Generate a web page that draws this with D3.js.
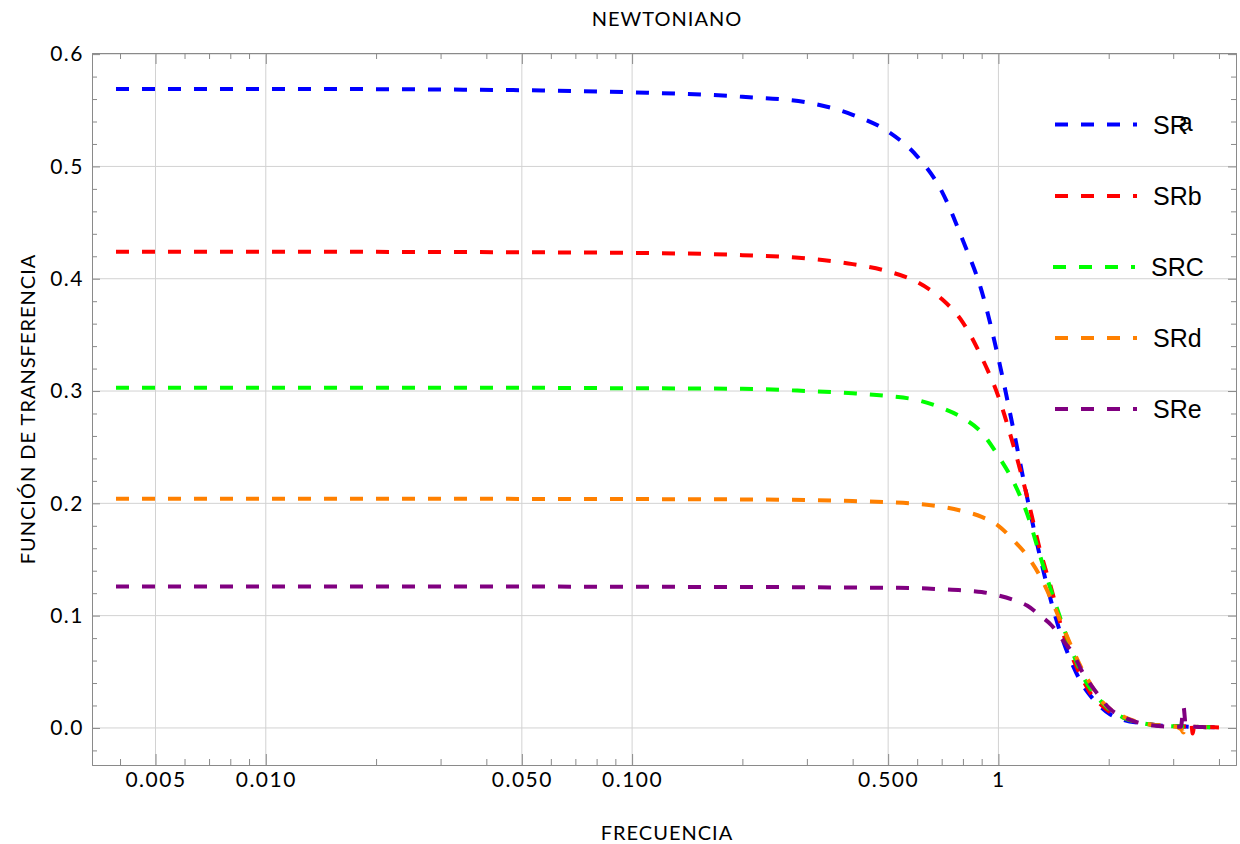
<!DOCTYPE html>
<html>
<head>
<meta charset="utf-8">
<script src="https://cdn.jsdelivr.net/npm/d3@7"></script>
<style>
body { margin: 0; background: #fff; }
text { font-family: Lato, "Open Sans", sans-serif; }
</style>
</head>
<body>
<script>
// Data
const seriesNames = ['SRa', 'SRb', 'SRC', 'SRd', 'SRe'];
const colors = ['#0000ff', '#ff0000', '#00ff00', '#ff8000', '#800080'];

const freq = [0.0039, 0.01, 0.03, 0.1, 0.2, 0.3, 0.4, 0.5, 0.6, 0.7, 0.8, 0.9,
    1.0, 1.1, 1.2, 1.3, 1.4, 1.5, 1.6, 1.7, 1.8, 1.9, 2.0, 2.2, 2.5, 2.8,
    3.0, 3.15, 3.2, 3.25, 3.33, 3.36, 3.39, 3.42, 3.6, 4.0];

const sra = [0.569, 0.569, 0.5685, 0.566, 0.562, 0.557, 0.546, 0.531, 0.509, 0.478, 0.434, 0.389,
    0.329, 0.265, 0.204, 0.152, 0.110, 0.078, 0.055, 0.038, 0.027, 0.019, 0.013, 0.007, 0.004, 0.002,
    0.0015, 0.0013, 0.0012, 0.0012, 0.001, 0.001, 0.001, 0.001, 0.0008, 0.0005];
const srb = [0.424, 0.424, 0.4238, 0.423, 0.421, 0.418, 0.413, 0.4065, 0.397, 0.382, 0.361, 0.330,
    0.295, 0.251, 0.205, 0.158, 0.122, 0.085, 0.061, 0.043, 0.029, 0.021, 0.015, 0.009, 0.004, 0.002,
    0.0015, 0.0013, 0.0012, 0.0012, 0.0005, 0.005, -0.005, 0.0005, 0.0008, 0.0005];
const src = [0.303, 0.303, 0.303, 0.3025, 0.302, 0.300, 0.298, 0.2955, 0.292, 0.285, 0.276, 0.263,
    0.242, 0.219, 0.190, 0.153, 0.120, 0.091, 0.066, 0.046, 0.033, 0.024, 0.017, 0.009, 0.004, 0.002,
    0.0015, 0.0013, 0.0012, 0.0012, 0.001, 0.001, 0.001, 0.001, 0.0008, 0.0005];
const srd = [0.204, 0.204, 0.204, 0.2038, 0.2035, 0.203, 0.202, 0.201, 0.1995, 0.197, 0.193, 0.188,
    0.180, 0.167, 0.153, 0.135, 0.113, 0.090, 0.069, 0.051, 0.037, 0.025, 0.018, 0.010, 0.004, 0.002,
    0.0015, -0.001, -0.004, 0.0008, 0.001, 0.001, 0.001, 0.001, 0.0008, 0.0005];
const sre = [0.126, 0.126, 0.126, 0.1257, 0.1255, 0.1253, 0.125, 0.1248, 0.1245, 0.1235, 0.1225, 0.121,
    0.118, 0.114, 0.1088, 0.100, 0.091, 0.078, 0.066, 0.049, 0.037, 0.027, 0.018, 0.0095, 0.0035, 0.0015,
    0.001, 0.001, 0.019, 0.001, 0.001, 0.001, 0.001, 0.001, 0.0008, 0.0005];

const xMajor = [0.005, 0.01, 0.05, 0.1, 0.5, 1];
const xLabels = ['0.005', '0.010', '0.050', '0.100', '0.500', '1'];
const xMinor = [0.004, 0.006, 0.007, 0.008, 0.009, 0.02, 0.03, 0.04, 0.06, 0.07, 0.08, 0.09,
    0.2, 0.3, 0.4, 0.6, 0.7, 0.8, 0.9, 2, 3, 4];
const yMajor = [0, 0.1, 0.2, 0.3, 0.4, 0.5, 0.6];
const yMinor = [-0.02, 0.02, 0.04, 0.06, 0.08, 0.12, 0.14, 0.16, 0.18, 0.22, 0.24, 0.26, 0.28,
    0.32, 0.34, 0.36, 0.38, 0.42, 0.44, 0.46, 0.48, 0.52, 0.54, 0.56, 0.58];

const seriesValues = [sra, srb, src, srd, sre];

// Layout
const width = 1240, height = 844;
const plotLeft = 92, plotRight = 1236, plotTop = 53, plotBottom = 765;

const svg = d3.select('body').append('svg')
    .attr('width', width)
    .attr('height', height);

const x = d3.scaleLog().domain([0.003354, 4.452]).range([plotLeft, plotRight]);
const y = d3.scaleLinear().domain([-0.033, 0.601]).range([plotBottom, plotTop]);

// Grid lines
svg.append('g').selectAll('line').data(xMajor).join('line')
    .attr('x1', d => x(d)).attr('x2', d => x(d))
    .attr('y1', plotTop).attr('y2', plotBottom)
    .attr('stroke', '#d2d2d2');
svg.append('g').selectAll('line').data(yMajor).join('line')
    .attr('x1', plotLeft).attr('x2', plotRight)
    .attr('y1', d => y(d)).attr('y2', d => y(d))
    .attr('stroke', '#d2d2d2');

// Curves
const line = d3.line()
    .x((d, i) => x(freq[i]))
    .y(d => y(d))
    .curve(d3.curveMonotoneX);

svg.append('g').selectAll('path').data(seriesValues).join('path')
    .attr('d', d => line(d))
    .attr('fill', 'none')
    .attr('stroke', (d, i) => colors[i])
    .attr('stroke-width', 4)
    .attr('stroke-dasharray', '13,13');

// Frame axes
function styleAxis(g) {
    g.selectAll('path, line').attr('stroke', '#8a8a8a');
    g.selectAll('text')
        .attr('fill', '#000')
        .style('font-size', '21px')
        .style('letter-spacing', '1.5px')
        .style('font-family', 'Lato, "Open Sans", sans-serif');
}

svg.append('g').attr('transform', `translate(0,${plotBottom})`)
    .call(d3.axisBottom(x).tickValues(xMajor).tickFormat(d => xLabels[xMajor.indexOf(d)])
        .tickSizeInner(-11).tickSizeOuter(0).tickPadding(7))
    .call(styleAxis);
svg.append('g').attr('transform', `translate(0,${plotBottom})`)
    .call(d3.axisBottom(x).tickValues(xMinor).tickFormat('').tickSizeInner(-6).tickSizeOuter(0))
    .call(styleAxis);
svg.append('g').attr('transform', `translate(0,${plotTop})`)
    .call(d3.axisTop(x).tickValues(xMajor).tickFormat('').tickSizeInner(-11).tickSizeOuter(0))
    .call(styleAxis);
svg.append('g').attr('transform', `translate(0,${plotTop})`)
    .call(d3.axisTop(x).tickValues(xMinor).tickFormat('').tickSizeInner(-6).tickSizeOuter(0))
    .call(styleAxis);

svg.append('g').attr('transform', `translate(${plotLeft},0)`)
    .call(d3.axisLeft(y).tickValues(yMajor).tickFormat(d3.format('.1f'))
        .tickSizeInner(-8).tickSizeOuter(0).tickPadding(8))
    .call(styleAxis);
svg.append('g').attr('transform', `translate(${plotLeft},0)`)
    .call(d3.axisLeft(y).tickValues(yMinor).tickFormat('').tickSizeInner(-5).tickSizeOuter(0))
    .call(styleAxis);
svg.append('g').attr('transform', `translate(${plotRight},0)`)
    .call(d3.axisRight(y).tickValues(yMajor).tickFormat('').tickSizeInner(-8).tickSizeOuter(0))
    .call(styleAxis);
svg.append('g').attr('transform', `translate(${plotRight},0)`)
    .call(d3.axisRight(y).tickValues(yMinor).tickFormat('').tickSizeInner(-5).tickSizeOuter(0))
    .call(styleAxis);

// Titles
svg.append('text')
    .attr('x', (plotLeft + plotRight) / 2 + 3).attr('y', 26)
    .attr('text-anchor', 'middle')
    .style('font-size', '20px').style('letter-spacing', '1px')
    .text('NEWTONIANO');

svg.append('text')
    .attr('x', (plotLeft + plotRight) / 2 + 3).attr('y', 840)
    .attr('text-anchor', 'middle')
    .style('font-size', '20px').style('letter-spacing', '1px')
    .text('FRECUENCIA');

svg.append('text')
    .attr('transform', `translate(35,${(plotTop + plotBottom) / 2}) rotate(-90)`)
    .attr('text-anchor', 'middle')
    .style('font-size', '20px').style('letter-spacing', '1px')
    .text('FUNCIÓN DE TRANSFERENCIA');

// Legend
const legendY = [124.5, 196, 267, 338, 409];
const legend = svg.append('g');
seriesNames.forEach((name, i) => {
    const shift = name === 'SRC' ? -2 : 0;
    legend.append('line')
        .attr('x1', 1055 + shift).attr('x2', 1137 + shift)
        .attr('y1', legendY[i]).attr('y2', legendY[i])
        .attr('stroke', colors[i])
        .attr('stroke-width', 4)
        .attr('stroke-dasharray', '13,13');
    const t = legend.append('text')
        .attr('x', 1153 + shift).attr('y', legendY[i] + 9)
        .style('font-family', '"Liberation Sans", Arial, sans-serif')
        .style('font-size', '25px');
    if (name === 'SRa') {
        // the reference draws the "a" squeezed over the "R"
        t.append('tspan').text('SR');
        t.append('tspan').attr('dx', -9).attr('dy', -3).text('a');
    } else {
        t.text(name);
    }
});
</script>
</body>
</html>
